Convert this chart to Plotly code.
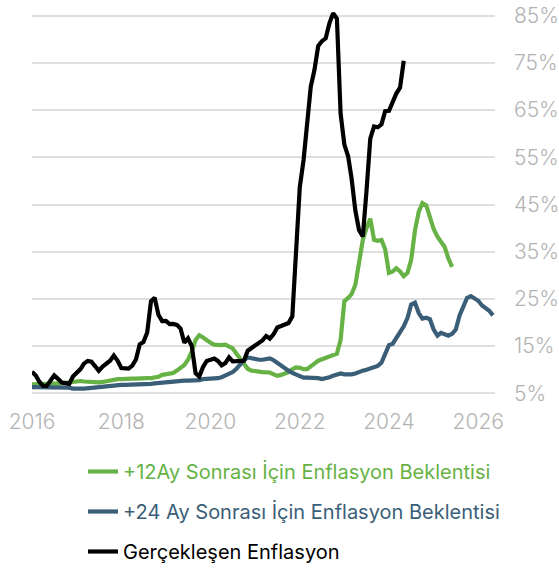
import pandas as pd
import plotly.graph_objects as go

START = "2016-01-01"

# Actual inflation (black), monthly from Jan 2016
actual = [
    9.58, 8.78, 7.46, 6.57, 6.58, 7.64, 8.79, 8.05, 7.28, 7.16, 7.00, 8.53,
    9.22, 10.13, 11.29, 11.87, 11.72, 10.90, 9.79, 10.68, 11.20, 11.90, 12.98, 11.92,
    10.35, 10.26, 10.23, 10.85, 12.15, 15.39, 15.85, 17.90, 24.52, 25.24, 21.62, 20.30,
    20.35, 19.67, 19.71, 19.50, 18.71, 15.72, 16.65, 15.01, 9.26, 8.55, 10.56, 11.84,
    12.15, 12.37, 11.86, 10.94, 11.39, 12.62, 11.76, 11.77, 11.75, 11.89, 14.03, 14.60,
    14.97, 15.61, 16.19, 17.14, 16.59, 17.53, 18.95, 19.25, 19.58, 19.89, 21.31, 36.08,
    48.69, 54.44, 61.14, 69.97, 73.50, 78.62, 79.60, 80.21, 83.45, 85.51, 84.39, 64.27,
    57.68, 55.18, 50.51, 43.68, 39.59, 38.21, 47.83, 58.94, 61.53, 61.36, 61.98, 64.77,
    64.86, 67.07, 68.50, 69.80, 75.45,
]

# +12 month expectation (green), monthly from Jan 2016
exp12 = [
    6.9, 6.9, 6.9, 6.9, 7.0, 7.0, 7.0, 7.1, 7.1, 7.2, 7.3, 7.6,
    7.6, 7.6, 7.5, 7.4, 7.4, 7.3, 7.3, 7.4, 7.6, 7.8, 8.0, 8.0,
    8.0, 8.1, 8.1, 8.1, 8.1, 8.2, 8.2, 8.2, 8.2, 8.3, 8.5, 8.9,
    9.0, 9.1, 9.3, 9.8, 10.3, 11.0, 12.1, 13.8, 16.3, 17.3, 16.8, 16.2,
    15.7, 15.3, 15.2, 15.2, 15.3, 15.0, 14.5, 13.4, 12.3, 11.0, 10.2, 9.8,
    9.6, 9.6, 9.5, 9.4, 9.4, 9.0, 8.7, 8.9, 9.1, 9.5, 10.1, 10.5,
    10.4, 10.1, 10.1, 10.6, 11.3, 11.9, 12.2, 12.6, 12.9, 13.0, 13.4, 16.3,
    24.5, 25.2, 26.0, 28.0, 32.5, 37.5, 40.0, 42.0, 37.5, 37.3, 37.5, 35.5,
    30.5, 30.8, 31.5, 30.8, 29.8, 30.5, 33.3, 39.5, 43.5, 45.3, 44.8, 42.0,
    39.8, 38.2, 37.2, 36.0, 33.6, 31.8,
]

# +24 month expectation (blue), monthly from Jan 2016
exp24 = [
    6.3, 6.3, 6.3, 6.4, 6.4, 6.4, 6.4, 6.3, 6.3, 6.3, 6.2, 6.0,
    5.9, 6.0, 6.0, 6.1, 6.1, 6.2, 6.3, 6.3, 6.4, 6.5, 6.6, 6.7,
    6.8, 6.8, 6.8, 6.8, 6.8, 6.9, 6.9, 6.9, 7.0, 7.1, 7.2, 7.3,
    7.4, 7.5, 7.6, 7.6, 7.7, 7.7, 7.7, 7.7, 7.7, 7.8, 8.0, 8.0,
    8.0, 8.1, 8.2, 8.4, 8.7, 9.0, 9.5, 10.2, 11.3, 12.0, 12.6, 12.4,
    12.2, 12.1, 12.1, 12.3, 12.4, 12.0, 11.4, 10.8, 10.3, 9.8, 9.3, 8.9,
    8.6, 8.3, 8.3, 8.3, 8.3, 8.2, 8.0, 8.1, 8.4, 8.7, 8.9, 9.2,
    9.0, 8.9, 9.0, 9.2, 9.6, 9.8, 10.0, 10.3, 10.5, 10.8, 11.5, 13.5,
    15.2, 15.5, 16.8, 17.8, 19.2, 21.0, 23.8, 24.2, 22.0, 20.8, 21.0, 20.7,
    18.5, 17.2, 17.8, 17.5, 17.2, 17.6, 18.5, 21.5, 23.2, 25.2, 25.6, 25.0,
    24.6, 23.6, 23.0, 22.5, 21.5,
]

names = [
    "+12Ay Sonrası İçin Enflasyon Beklentisi",
    "+24 Ay Sonrası İçin Enflasyon Beklentisi",
    "Gerçekleşen Enflasyon",
]
colors = ["#66b245", "#3a5e78", "#000000"]
y_ticks = [5, 15, 25, 35, 45, 55, 65, 75, 85]

FONT = "Inter, Roboto, sans-serif"


def dates(n):
    return pd.date_range(START, periods=n, freq="MS")


fig = go.Figure()
series = [exp12, exp24, actual]
for i, (vals, name, col) in enumerate(zip(series, names, colors)):
    fig.add_trace(go.Scatter(
        x=dates(len(vals)), y=vals, mode="lines",
        name=f'<span style="color:{col}">{name}</span>',
        line=dict(color=col, width=4.2),
        legendgroup=f"g{i}", legendrank=i + 1,
        hoverinfo="skip",
    ))

tickfont = dict(size=21, color="#b3b3b3", family=FONT, weight=300)

fig.update_layout(
    width=559, height=572,
    margin=dict(l=32, r=64, t=11, b=174, autoexpand=False),
    paper_bgcolor="white", plot_bgcolor="white",
    font=dict(family=FONT),
    showlegend=True,
    legend=dict(
        orientation="v",
        xref="container", x=83 / 559, xanchor="left",
        yref="container", y=1 - 452 / 572, yanchor="top",
        font=dict(size=20, family=FONT),
        tracegroupgap=11, itemwidth=30, bgcolor="rgba(0,0,0,0)",
    ),
    xaxis=dict(
        range=["2016-01-01", "2026-05-18"],
        tick0="2016-01-01", dtick="M24", tickformat="%Y",
        showgrid=False, zeroline=False, showline=False,
        ticks="", ticklabelstandoff=9, automargin=False,
        tickfont=tickfont,
    ),
    yaxis=dict(
        range=[4, 86], side="right",
        tickvals=y_ticks, ticktext=[f"{v}%" for v in y_ticks],
        showgrid=True, gridcolor="#dedede", gridwidth=2,
        zeroline=False, showline=False, ticks="", ticklabelstandoff=18,
        automargin=False,
        tickfont=tickfont,
    ),
)

fig.write_html(
    "out.html",
    config={"displayModeBar": False},
    post_script="document.body.style.margin='0';document.body.style.overflow='hidden';",
)
